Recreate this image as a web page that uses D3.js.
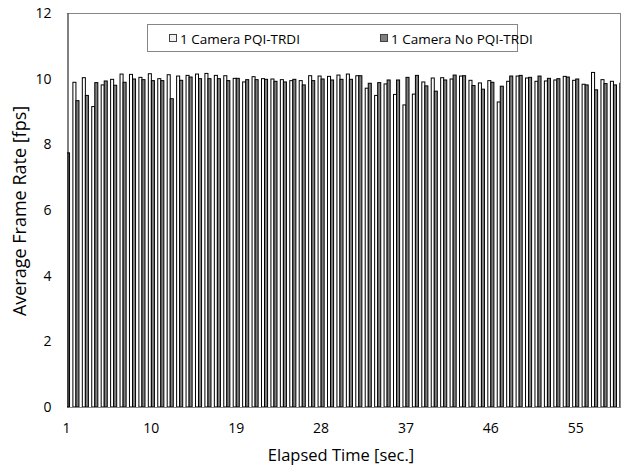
<!DOCTYPE html>
<html>
<head>
<meta charset="utf-8">
<script src="https://cdn.jsdelivr.net/npm/d3@7"></script>
<style>
  body { margin: 0; background: #fff; }
  text { font-family: "Open Sans", sans-serif; fill: #000; }
</style>
</head>
<body>
<div id="chart"></div>
<script>
// elapsed seconds 1..60
var seconds = d3.range(1, 61);

// 1 Camera PQI-TRDI (first one sits behind the axis, not readable)
var pqi = [null, 9.89, 10.03, 9.15, 9.81, 9.98, 10.14, 10.13, 10.04, 10.15,
           10.00, 10.12, 10.08, 10.10, 10.14, 10.16, 10.10, 10.09, 10.01, 9.90,
           10.06, 10.00, 9.99, 9.97, 9.94, 9.94, 10.09, 10.08, 10.07, 10.11,
           10.14, 10.09, 9.71, 9.49, 9.84, 9.52, 9.20, 9.53, 9.90, 10.02,
           10.03, 9.99, 10.08, 9.95, 9.87, 9.94, 9.29, 9.92, 10.08, 10.02,
           9.92, 9.93, 9.96, 10.07, 9.95, 9.83, 10.19, 9.97, 9.92, 9.86];

// 1 Camera No PQI-TRDI
var noPqi = [7.74, 9.33, 9.49, 9.88, 9.93, 9.80, 9.89, 9.99, 9.97, 9.94,
             9.94, 9.39, 9.95, 10.05, 10.00, 10.00, 10.00, 9.94, 10.01, 9.97,
             9.97, 9.98, 9.92, 9.90, 9.98, 9.81, 9.94, 9.99, 9.96, 9.98,
             9.98, 10.09, 9.86, 9.88, 9.96, 9.96, 10.04, 10.10, 9.78, 9.62,
             9.96, 10.11, 10.09, 9.79, 9.68, 9.89, 9.77, 10.08, 10.10, 10.04,
             10.08, 10.01, 10.00, 10.05, 9.99, 9.81, 9.66, 9.85, 9.81, 9.80];

var yTicks = [0, 2, 4, 6, 8, 10, 12];
var xTickLabels = [1, 10, 19, 28, 37, 46, 55];

var W = 622, H = 470;
var plot = {left: 67, right: 621, top: 13, bottom: 407};

var svg = d3.select("#chart").append("svg").attr("width", W).attr("height", H);

// category 1 is centred right on the value axis, so the bands start left of it
var step = 9.43;
var x = d3.scaleBand().domain(seconds)
    .range([plot.left - 0.5 - step / 2, plot.left - 0.5 - step / 2 + step * seconds.length])
    .paddingInner(0).paddingOuter(0);
var xs = d3.scaleBand().domain(["pqi", "no"]).range([0, step]).paddingInner(0).paddingOuter(0.55);
var y = d3.scaleLinear().domain([0, 12]).range([plot.bottom, plot.top]);

svg.append("defs").append("clipPath").attr("id", "clip")
    .append("rect").attr("x", plot.left).attr("y", plot.top)
    .attr("width", plot.right - plot.left).attr("height", plot.bottom - plot.top);

var bars = svg.append("g").attr("clip-path", "url(#clip)");
var rows = seconds.map(function(s, i) { return {s: s, pqi: pqi[i], no: noPqi[i]}; });

bars.selectAll("rect.pqi").data(rows.filter(function(d) { return d.pqi != null; }))
  .enter().append("rect").attr("class", "pqi")
    .attr("x", function(d) { return x(d.s) + xs("pqi"); })
    .attr("width", xs.bandwidth())
    .attr("y", function(d) { return y(d.pqi); })
    .attr("height", function(d) { return y(0) - y(d.pqi); })
    .attr("fill", "#ffffff").attr("stroke", "#000").attr("stroke-width", 1);

bars.selectAll("rect.no").data(rows)
  .enter().append("rect").attr("class", "no")
    .attr("x", function(d) { return x(d.s) + xs("no"); })
    .attr("width", xs.bandwidth())
    .attr("y", function(d) { return y(d.no); })
    .attr("height", function(d) { return y(0) - y(d.no); })
    .attr("fill", "#7f7f7f").attr("stroke", "#000").attr("stroke-width", 1);

// frame
svg.append("line").attr("x1", plot.left).attr("x2", plot.right).attr("y1", plot.top + 0.5).attr("y2", plot.top + 0.5)
    .attr("stroke", "#868686");
svg.append("line").attr("x1", plot.right - 0.5).attr("x2", plot.right - 0.5).attr("y1", plot.top).attr("y2", plot.bottom)
    .attr("stroke", "#868686");
svg.append("line").attr("x1", plot.left).attr("x2", plot.right).attr("y1", plot.bottom + 0.5).attr("y2", plot.bottom + 0.5)
    .attr("stroke", "#868686");

// y axis
var yAxis = svg.append("g").attr("transform", "translate(" + (plot.left + 0.5) + ",0)")
    .call(d3.axisLeft(y).tickValues(yTicks).tickSize(0).tickPadding(16));
yAxis.select(".domain").attr("stroke", "#000");
yAxis.selectAll("text").attr("font-size", "14px").style("font-family", "'Open Sans', sans-serif");

// x axis labels (every 9th second)
var xAxis = svg.append("g").attr("transform", "translate(0," + plot.bottom + ")")
    .call(d3.axisBottom(x).tickValues(xTickLabels).tickSize(0).tickPadding(16));
xAxis.select(".domain").remove();
xAxis.selectAll("text").attr("font-size", "14px").style("font-family", "'Open Sans', sans-serif");

// axis titles
svg.append("text").attr("x", 341).attr("y", 461)
    .attr("text-anchor", "middle").attr("font-size", "16.5px").text("Elapsed Time [sec.]");
svg.append("text").attr("transform", "translate(26,211) rotate(-90)")
    .attr("text-anchor", "middle").attr("font-size", "18px").text("Average Frame Rate [fps]");

// legend
var lg = svg.append("g");
lg.append("rect").attr("x", 147.5).attr("y", 24.5).attr("width", 370).attr("height", 27)
    .attr("fill", "#fff").attr("stroke", "#868686");
var items = [{label: "1 Camera PQI-TRDI", fill: "#f2f2f2", x: 169},
             {label: "1 Camera No PQI-TRDI", fill: "#7f7f7f", x: 380}];
items.forEach(function(it) {
  lg.append("rect").attr("x", it.x + 0.5).attr("y", 34.5).attr("width", 7).attr("height", 7)
    .attr("fill", it.fill).attr("stroke", "#404040");
  lg.append("text").attr("x", it.x + 11).attr("y", 43.5).attr("font-size", "13.5px").text(it.label);
});
</script>
</body>
</html>
